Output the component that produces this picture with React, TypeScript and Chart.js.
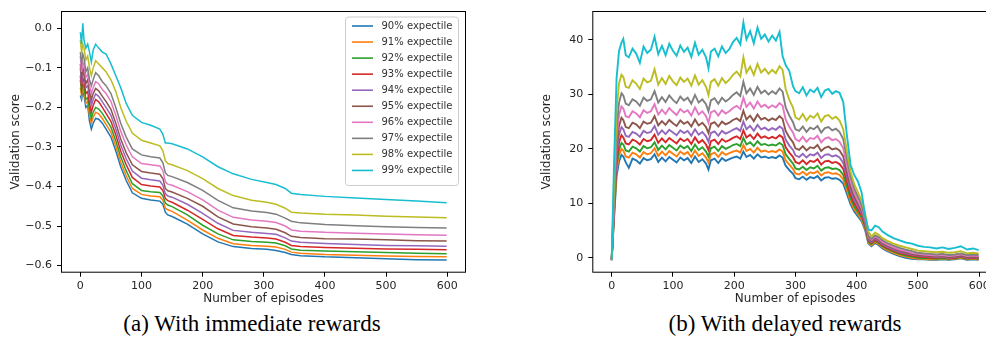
import React, { useEffect, useRef } from 'react';
import { Chart, registerables } from 'chart.js';

Chart.register(...registerables);

// ---- series metadata ----
const SERIES_LABELS = [
  '90% expectile', '91% expectile', '92% expectile', '93% expectile', '94% expectile',
  '95% expectile', '96% expectile', '97% expectile', '98% expectile', '99% expectile',
];
const SERIES_COLORS = [
  '#1f77b4', '#ff7f0e', '#2ca02c', '#d62728', '#9467bd',
  '#8c564b', '#e377c2', '#7f7f7f', '#bcbd22', '#17becf',
];

const X_TICKS = [0, 100, 200, 300, 400, 500, 600];
const Y_TICKS_IMMEDIATE = [-0.6, -0.5, -0.4, -0.3, -0.2, -0.1, 0.0];
const Y_TICKS_DELAYED = [0, 10, 20, 30, 40];

// ---- (a) immediate rewards ----
const EPISODES_IMMEDIATE = [
  0, 2, 4, 6, 9, 12, 15, 18, 21, 25,
  30, 36, 42, 50, 58, 66, 75, 85, 100, 115,
  130, 135, 139, 143, 150, 175, 200, 225, 250, 280,
  305, 320, 335, 345, 360, 400, 450, 500, 550, 599,
];
const IMMEDIATE_90 = [
  -0.17, -0.18, -0.16, -0.17, -0.2, -0.195, -0.235, -0.255, -0.24, -0.228,
  -0.23, -0.24, -0.255, -0.275, -0.31, -0.35, -0.385, -0.416, -0.43, -0.434,
  -0.437, -0.445, -0.465, -0.472, -0.476, -0.495, -0.52, -0.54, -0.552, -0.557,
  -0.559, -0.562, -0.567, -0.572, -0.575, -0.578, -0.58, -0.583, -0.585, -0.586,
];
const IMMEDIATE_91 = [
  -0.15, -0.17, -0.15, -0.16, -0.19, -0.185, -0.22, -0.24, -0.225, -0.212,
  -0.216, -0.228, -0.243, -0.263, -0.298, -0.338, -0.373, -0.405, -0.42, -0.424,
  -0.426, -0.435, -0.455, -0.459, -0.463, -0.485, -0.51, -0.531, -0.545, -0.549,
  -0.551, -0.553, -0.559, -0.566, -0.569, -0.572, -0.574, -0.576, -0.577, -0.578,
];
const IMMEDIATE_92 = [
  -0.13, -0.16, -0.14, -0.15, -0.18, -0.175, -0.205, -0.228, -0.212, -0.2,
  -0.204, -0.215, -0.23, -0.25, -0.285, -0.325, -0.36, -0.393, -0.41, -0.413,
  -0.415, -0.424, -0.442, -0.447, -0.451, -0.472, -0.498, -0.52, -0.535, -0.539,
  -0.541, -0.543, -0.55, -0.558, -0.561, -0.563, -0.565, -0.567, -0.569, -0.57,
];
const IMMEDIATE_93 = [
  -0.12, -0.15, -0.125, -0.135, -0.165, -0.16, -0.19, -0.212, -0.195, -0.18,
  -0.186, -0.2, -0.215, -0.235, -0.27, -0.31, -0.345, -0.377, -0.395, -0.399,
  -0.401, -0.41, -0.43, -0.436, -0.44, -0.46, -0.483, -0.507, -0.524, -0.528,
  -0.53, -0.533, -0.541, -0.549, -0.552, -0.554, -0.556, -0.558, -0.559, -0.56,
];
const IMMEDIATE_94 = [
  -0.1, -0.14, -0.11, -0.12, -0.15, -0.145, -0.17, -0.195, -0.18, -0.166,
  -0.172, -0.186, -0.2, -0.22, -0.255, -0.295, -0.33, -0.361, -0.379, -0.383,
  -0.386, -0.397, -0.418, -0.424, -0.427, -0.445, -0.468, -0.493, -0.511, -0.516,
  -0.519, -0.521, -0.53, -0.538, -0.541, -0.544, -0.547, -0.549, -0.55, -0.551,
];
const IMMEDIATE_95 = [
  -0.09, -0.125, -0.1, -0.11, -0.14, -0.13, -0.16, -0.18, -0.165, -0.152,
  -0.158, -0.172, -0.185, -0.205, -0.24, -0.28, -0.315, -0.345, -0.362, -0.366,
  -0.369, -0.38, -0.405, -0.411, -0.414, -0.43, -0.45, -0.477, -0.495, -0.502,
  -0.505, -0.508, -0.517, -0.526, -0.529, -0.532, -0.533, -0.535, -0.537, -0.538,
];
const IMMEDIATE_96 = [
  -0.07, -0.11, -0.085, -0.095, -0.125, -0.115, -0.145, -0.165, -0.15, -0.135,
  -0.14, -0.155, -0.165, -0.185, -0.22, -0.26, -0.295, -0.325, -0.342, -0.345,
  -0.348, -0.36, -0.388, -0.394, -0.397, -0.413, -0.434, -0.46, -0.478, -0.485,
  -0.488, -0.491, -0.5, -0.51, -0.513, -0.516, -0.518, -0.52, -0.522, -0.523,
];
const IMMEDIATE_97 = [
  -0.06, -0.09, -0.065, -0.075, -0.11, -0.1, -0.13, -0.145, -0.13, -0.112,
  -0.12, -0.135, -0.145, -0.165, -0.2, -0.24, -0.275, -0.305, -0.32, -0.325,
  -0.328, -0.34, -0.365, -0.372, -0.375, -0.39, -0.41, -0.435, -0.454, -0.462,
  -0.466, -0.47, -0.48, -0.488, -0.492, -0.496, -0.499, -0.502, -0.504, -0.505,
];
const IMMEDIATE_98 = [
  -0.03, -0.06, -0.04, -0.05, -0.08, -0.07, -0.1, -0.12, -0.1, -0.082,
  -0.09, -0.1, -0.11, -0.13, -0.16, -0.2, -0.235, -0.265, -0.283, -0.29,
  -0.297, -0.31, -0.335, -0.342, -0.345, -0.36, -0.38, -0.405, -0.423, -0.435,
  -0.44, -0.445, -0.455, -0.465, -0.467, -0.47, -0.472, -0.475, -0.477, -0.479,
];
const IMMEDIATE_99 = [
  -0.01, -0.04, 0.013, -0.03, -0.05, -0.04, -0.06, -0.085, -0.055, -0.04,
  -0.05, -0.06, -0.065, -0.09, -0.12, -0.15, -0.19, -0.22, -0.238, -0.245,
  -0.255, -0.268, -0.29, -0.29, -0.292, -0.305, -0.325, -0.35, -0.368, -0.382,
  -0.39, -0.395, -0.405, -0.417, -0.42, -0.425, -0.429, -0.433, -0.437, -0.441,
];

// ---- (b) delayed rewards ----
const EPISODES_DELAYED = [
  0, 4, 8, 12, 16, 19, 23, 28, 34, 40,
  46, 52, 58, 64, 70, 76, 82, 88, 94, 100,
  106, 112, 118, 124, 130, 136, 142, 148, 154, 158,
  162, 168, 174, 180, 186, 192, 198, 204, 210, 215,
  220, 226, 232, 238, 244, 250, 256, 262, 268, 274,
  279, 284, 290, 296, 300, 306, 312, 318, 324, 330,
  336, 342, 348, 354, 360, 366, 372, 378, 384, 390,
  396, 402, 408, 414, 419, 424, 430, 436, 442, 450,
  460, 470, 480, 490, 500, 510, 520, 530, 540, 550,
  560, 570, 580, 590, 599,
];
const DELAYED_90 = [
  -0.5, 7.5, 15, 17.7, 18.9, 18.6, 17.5, 16.5, 18.2, 17.9,
  17.3, 18.3, 17.9, 18.1, 19.0, 17.6, 18.4, 17.7, 18.5, 18.0,
  17.5, 18.4, 17.9, 18.3, 17.4, 18.6, 17.6, 18.1, 17.3, 16.2,
  17.9, 18.2, 17.4, 18.3, 17.8, 18.1, 18.4, 18.6, 18.2, 19.5,
  18.5, 18.9, 18.2, 19.0, 18.4, 18.6, 18.3, 18.5, 18.3, 18.8,
  18.4, 16.9, 16.1, 15.4, 14.6, 14.4, 14.9, 14.3, 14.8, 14.6,
  15.0, 14.2, 14.7, 14.8, 14.5, 14.6, 14.3, 13.6, 11.7, 9.8,
  8.5, 7.6, 6.7, 5.0, 2.6, 2.1, 2.7, 2.3, 1.7, 1.2,
  0.7, 0.3, 0.0, -0.2, -0.3, -0.3, -0.4, -0.4, -0.3, -0.4,
  -0.3, -0.1, -0.4, -0.3, -0.4,
];
const DELAYED_91 = [
  -0.4, 8, 16, 18.8, 20.0, 19.7, 18.6, 18.4, 19.3, 19.0,
  18.4, 19.4, 19.0, 19.2, 20.1, 18.7, 19.5, 18.8, 19.6, 19.1,
  18.6, 19.5, 19.0, 19.4, 18.5, 19.7, 18.7, 19.2, 18.4, 17.5,
  19.0, 19.3, 18.5, 19.4, 18.9, 19.2, 19.5, 19.7, 19.3, 20.7,
  19.6, 20.0, 19.3, 20.2, 19.5, 19.7, 19.4, 19.6, 19.4, 19.9,
  19.5, 17.9, 17.1, 16.3, 15.5, 15.3, 15.8, 15.2, 15.7, 15.5,
  15.9, 15.1, 15.6, 15.7, 15.4, 15.5, 15.2, 14.4, 12.4, 10.3,
  8.9, 8.0, 7.0, 5.3, 2.8, 2.3, 2.9, 2.5, 1.9, 1.4,
  0.9, 0.5, 0.2, 0.0, -0.2, -0.2, -0.3, -0.3, -0.2, -0.3,
  -0.2, 0.0, -0.3, -0.2, -0.3,
];
const DELAYED_92 = [
  -0.4, 8.5, 17, 19.9, 21.1, 20.8, 19.7, 19.5, 20.4, 20.1,
  19.5, 20.5, 20.1, 20.3, 21.2, 19.8, 20.6, 19.9, 20.7, 20.2,
  19.7, 20.6, 20.1, 20.5, 19.6, 20.8, 19.8, 20.3, 19.5, 18.6,
  20.1, 20.4, 19.6, 20.5, 20.0, 20.3, 20.7, 20.9, 20.5, 22.0,
  20.8, 21.2, 20.5, 21.4, 20.7, 20.9, 20.6, 20.8, 20.6, 21.1,
  20.7, 19.0, 18.1, 17.3, 16.4, 16.2, 16.7, 16.1, 16.6, 16.4,
  16.9, 16.0, 16.5, 16.6, 16.3, 16.4, 16.1, 15.2, 13.1, 10.9,
  9.4, 8.4, 7.4, 5.6, 3.0, 2.5, 3.1, 2.7, 2.1, 1.6,
  1.1, 0.7, 0.4, 0.2, 0.0, -0.1, -0.1, -0.2, -0.1, -0.2,
  -0.1, 0.1, -0.2, -0.1, -0.2,
];
const DELAYED_93 = [
  -0.4, 9, 18, 21.2, 22.5, 22.1, 21.0, 20.8, 21.7, 21.4,
  20.8, 21.8, 21.4, 21.6, 22.6, 21.1, 21.9, 21.2, 22.0, 21.5,
  21.0, 21.9, 21.4, 21.8, 20.9, 22.1, 21.1, 21.6, 20.8, 19.8,
  21.4, 21.7, 20.9, 21.8, 21.3, 21.6, 22.0, 22.3, 21.8, 23.4,
  22.1, 22.6, 21.8, 22.8, 22.0, 22.3, 21.9, 22.2, 21.9, 22.5,
  22.1, 20.3, 19.3, 18.5, 17.6, 17.3, 17.9, 17.2, 17.8, 17.6,
  18.1, 17.1, 17.7, 17.8, 17.4, 17.6, 17.2, 16.3, 14.0, 11.6,
  10.0, 8.9, 7.8, 5.9, 3.2, 2.7, 3.3, 2.9, 2.3, 1.8,
  1.3, 0.9, 0.6, 0.4, 0.2, 0.1, 0.0, 0.0, 0.1, -0.1,
  0.0, 0.2, -0.1, 0.0, -0.1,
];
const DELAYED_94 = [
  -0.4, 9.5, 19, 22.6, 24.0, 23.6, 22.4, 22.2, 23.1, 22.8,
  22.2, 23.3, 22.9, 23.1, 24.2, 22.6, 23.4, 22.7, 23.5, 23.0,
  22.5, 23.4, 22.9, 23.3, 22.4, 23.6, 22.6, 23.1, 22.3, 21.3,
  22.9, 23.2, 22.4, 23.3, 22.8, 23.1, 23.5, 23.8, 23.3, 25.0,
  23.6, 24.2, 23.3, 24.4, 23.6, 23.9, 23.4, 23.8, 23.5, 24.1,
  23.7, 21.7, 20.6, 19.8, 18.8, 18.5, 19.1, 18.4, 19.0, 18.8,
  19.3, 18.3, 18.9, 19.0, 18.6, 18.8, 18.4, 17.4, 14.9, 12.3,
  10.6, 9.4, 8.2, 6.2, 3.4, 2.9, 3.5, 3.1, 2.5, 2.0,
  1.5, 1.1, 0.8, 0.6, 0.4, 0.3, 0.2, 0.1, 0.2, 0.0,
  0.1, 0.3, 0.0, 0.1, 0.0,
];
const DELAYED_95 = [
  -0.4, 10, 20.5, 24.2, 25.7, 25.3, 24.0, 23.8, 24.8, 24.5,
  23.8, 25.0, 24.6, 24.8, 26.0, 24.3, 25.1, 24.4, 25.3, 24.7,
  24.2, 25.2, 24.6, 25.0, 24.1, 25.4, 24.3, 24.8, 24.0, 22.9,
  24.6, 24.9, 24.1, 25.0, 24.5, 24.8, 25.3, 25.6, 25.1, 27.0,
  25.4, 26.1, 25.1, 26.3, 25.4, 25.7, 25.2, 25.6, 25.3, 26.0,
  25.5, 23.3, 22.1, 21.2, 20.1, 19.8, 20.5, 19.7, 20.3, 20.1,
  20.7, 19.6, 20.2, 20.4, 19.9, 20.1, 19.7, 18.6, 15.8, 13.0,
  11.2, 9.9, 8.6, 6.5, 3.6, 3.1, 3.7, 3.3, 2.7, 2.2,
  1.7, 1.3, 1.0, 0.7, 0.5, 0.4, 0.3, 0.2, 0.3, 0.1,
  0.2, 0.4, 0.1, 0.2, 0.1,
];
const DELAYED_96 = [
  -0.4, 11, 22, 26.2, 27.8, 27.4, 26.0, 25.8, 26.9, 26.5,
  25.8, 27.1, 26.6, 26.9, 28.2, 26.3, 27.2, 26.4, 27.5, 26.8,
  26.2, 27.3, 26.7, 27.1, 26.1, 27.6, 26.3, 26.9, 26.0, 24.8,
  26.7, 27.0, 26.1, 27.1, 26.5, 26.9, 27.5, 27.9, 27.3, 29.4,
  27.7, 28.5, 27.4, 28.7, 27.7, 28.1, 27.5, 28.0, 27.6, 28.4,
  27.9, 25.4, 24.0, 23.0, 21.8, 21.4, 22.2, 21.3, 22.0, 21.8,
  22.4, 21.2, 21.9, 22.1, 21.6, 21.8, 21.3, 20.1, 16.9, 13.9,
  11.9, 10.5, 9.1, 6.9, 3.8, 3.3, 3.9, 3.5, 2.9, 2.4,
  1.9, 1.5, 1.2, 0.9, 0.7, 0.6, 0.5, 0.4, 0.5, 0.3,
  0.4, 0.6, 0.3, 0.4, 0.3,
];
const DELAYED_97 = [
  -0.4, 12, 24, 28.5, 30.2, 29.8, 28.3, 28.0, 29.1, 28.7,
  27.9, 29.4, 28.8, 29.1, 30.6, 28.5, 29.5, 28.6, 29.8, 29.0,
  28.4, 29.6, 28.9, 29.4, 28.3, 29.9, 28.5, 29.1, 28.2, 26.9,
  28.9, 29.3, 28.3, 29.4, 28.7, 29.2, 29.9, 30.4, 29.7, 32.3,
  30.2, 31.1, 29.9, 31.4, 30.2, 30.7, 30.0, 30.6, 30.1, 31.1,
  30.5, 27.6, 26.1, 24.9, 23.6, 23.3, 24.1, 23.1, 23.9, 23.6,
  24.2, 23.0, 23.8, 24.0, 23.4, 23.7, 23.1, 21.8, 18.2, 14.9,
  12.7, 11.2, 9.7, 7.3, 4.0, 3.5, 4.1, 3.8, 3.2, 2.7,
  2.2, 1.8, 1.5, 1.2, 0.9, 0.8, 0.7, 0.6, 0.7, 0.5,
  0.6, 0.8, 0.5, 0.6, 0.5,
];
const DELAYED_98 = [
  -0.4, 14, 27, 32, 33.6, 33.2, 31.4, 31.2, 32.6, 32.0,
  31.0, 32.9, 32.2, 32.5, 34.6, 31.8, 33.0, 31.9, 33.4, 32.4,
  31.7, 33.1, 32.3, 32.9, 31.6, 33.5, 31.8, 32.6, 31.4, 29.9,
  32.3, 32.8, 31.6, 33.0, 32.1, 32.7, 33.6, 34.2, 33.3, 36.8,
  34.0, 35.1, 33.6, 35.6, 34.0, 34.7, 33.8, 34.5, 33.9, 35.2,
  34.5, 31.0, 29.0, 27.6, 25.8, 25.4, 26.4, 25.2, 26.1, 25.7,
  26.5, 25.0, 26.0, 26.2, 25.5, 25.9, 25.2, 23.6, 19.5, 15.8,
  13.5, 12.0, 10.5, 8.0, 4.8, 3.9, 4.6, 4.2, 3.6, 3.1,
  2.6, 2.2, 1.9, 1.6, 1.3, 1.2, 1.1, 1.0, 1.1, 0.9,
  1.0, 1.2, 0.8, 0.9, 0.8,
];
const DELAYED_99 = [
  -0.3, 18, 33, 38, 39.5, 40.2, 37.2, 36.8, 38.4, 37.5,
  35.8, 38.8, 37.6, 38.2, 40.6, 37.4, 38.9, 37.2, 39.3, 38.0,
  37.1, 39.0, 37.8, 38.6, 36.9, 39.5, 37.3, 38.2, 36.8, 34.8,
  37.9, 38.4, 37.0, 38.8, 37.6, 38.3, 39.6, 40.4, 39.2, 43.2,
  40.1, 41.6, 39.4, 42.3, 40.2, 41.0, 39.7, 40.8, 39.9, 41.5,
  37.0, 35.4, 34.3, 31.5, 30.6, 30.2, 31.3, 29.8, 30.9, 30.4,
  31.2, 29.5, 30.7, 31.0, 30.1, 30.6, 30.3, 28.6, 22.5, 17.0,
  15.2, 14.0, 12.0, 7.5, 5.2, 5.0, 5.9, 5.6, 4.8, 4.2,
  3.6, 3.2, 2.8, 2.6, 2.2, 2.0, 1.9, 1.7, 1.9, 1.6,
  1.8, 2.1, 1.5, 1.7, 1.4,
];

const IMMEDIATE_SERIES = [
  IMMEDIATE_90, IMMEDIATE_91, IMMEDIATE_92, IMMEDIATE_93, IMMEDIATE_94,
  IMMEDIATE_95, IMMEDIATE_96, IMMEDIATE_97, IMMEDIATE_98, IMMEDIATE_99,
];
const DELAYED_SERIES = [
  DELAYED_90, DELAYED_91, DELAYED_92, DELAYED_93, DELAYED_94,
  DELAYED_95, DELAYED_96, DELAYED_97, DELAYED_98, DELAYED_99,
];

const TEXT_COLOR = '#262626';
const SANS = "'DejaVu Sans', sans-serif";

// Black box around the axes area (all four spines).
const framePlugin = {
  id: 'axesFrame',
  afterDatasetsDraw(chart: any) {
    const { ctx, chartArea: a } = chart;
    ctx.save();
    ctx.strokeStyle = '#000';
    ctx.lineWidth = 1;
    ctx.strokeRect(a.left - 0.5, a.top - 0.5, a.right - a.left + 1, a.bottom - a.top + 1);
    ctx.restore();
  },
};

// Legend box in the upper-right corner of the axes.
const expectileLegend = {
  id: 'expectileLegend',
  afterDraw(chart: any) {
    const { ctx, chartArea: a } = chart;
    const sets = chart.data.datasets;
    const boxW = 113;
    const rowH = 16.05;
    const boxH = 11 + rowH * sets.length - 3;
    const bx = a.right - 7 - boxW;
    const by = a.top + 4.5;
    ctx.save();
    ctx.beginPath();
    ctx.roundRect(bx + 0.5, by + 0.5, boxW, boxH, 3);
    ctx.fillStyle = 'rgba(255,255,255,0.85)';
    ctx.fill();
    ctx.strokeStyle = '#cccccc';
    ctx.lineWidth = 1;
    ctx.stroke();
    ctx.font = `10px ${SANS}`;
    ctx.textBaseline = 'middle';
    ctx.textAlign = 'left';
    sets.forEach((ds: any, i: number) => {
      const cy = by + 9.5 + i * rowH;
      ctx.strokeStyle = ds.borderColor;
      ctx.lineWidth = 1.6;
      ctx.beginPath();
      ctx.moveTo(bx + 7, cy);
      ctx.lineTo(bx + 28, cy);
      ctx.stroke();
      ctx.fillStyle = '#333333';
      ctx.fillText(ds.label, bx + 36.5, cy);
    });
    ctx.restore();
  },
};

type PanelProps = {
  episodes: number[];
  series: number[][];
  yMin: number;
  yMax: number;
  yTicks: number[];
  yFormat: (v: number) => string;
  left: number;
  width: number;
  yAxisWidth: number;
  padRight: number;
  yTitleOffset: number;
  lineWidth: number;
  legend: boolean;
};

const CANVAS_H = 310;

function Panel(p: PanelProps) {
  const ref = useRef<HTMLCanvasElement | null>(null);

  useEffect(() => {
    if (!ref.current) return;
    const datasets = p.series.map((vals, i) => ({
      label: SERIES_LABELS[i],
      data: p.episodes.map((x, j) => ({ x, y: vals[j] })),
      borderColor: SERIES_COLORS[i],
      backgroundColor: SERIES_COLORS[i],
      borderWidth: p.lineWidth,
      pointRadius: 0,
      tension: 0,
      fill: false,
      order: p.series.length - 1 - i,
    }));

    const tickFont = { family: SANS, size: 11 };
    const titleFont = { family: SANS, size: 12 };

    const chart = new Chart(ref.current, {
      type: 'line',
      data: { datasets },
      options: {
        responsive: false,
        animation: false,
        devicePixelRatio: 1,
        events: [],
        layout: { padding: { top: 12, right: p.padRight, left: 0, bottom: 0 } },
        plugins: {
          legend: { display: false },
          tooltip: { enabled: false },
        },
        scales: {
          x: {
            type: 'linear',
            min: -30,
            max: 629,
            afterBuildTicks: (s: any) => {
              s.ticks = X_TICKS.map((v) => ({ value: v }));
            },
            afterFit: (s: any) => {
              s.height = CANVAS_H - 271.7;
            },
            ticks: {
              autoSkip: false,
              maxRotation: 0,
              padding: 2.5,
              color: TEXT_COLOR,
              font: tickFont,
              callback: (v: any) => String(v),
            },
            grid: { drawOnChartArea: false, drawTicks: true, tickLength: 5, color: '#000', lineWidth: 1 },
            border: { display: false },
            title: {
              display: true,
              text: 'Number of episodes',
              color: TEXT_COLOR,
              font: titleFont,
              padding: { top: 0, bottom: 3.5 },
            },
          },
          y: {
            type: 'linear',
            min: p.yMin,
            max: p.yMax,
            afterBuildTicks: (s: any) => {
              s.ticks = p.yTicks.map((v) => ({ value: v }));
            },
            afterFit: (s: any) => {
              s.width = p.yAxisWidth;
            },
            ticks: {
              autoSkip: false,
              padding: 5,
              color: TEXT_COLOR,
              font: tickFont,
              callback: (v: any) => p.yFormat(Number(v)),
            },
            grid: { drawOnChartArea: false, drawTicks: true, tickLength: 5, color: '#000', lineWidth: 1 },
            border: { display: false },
            title: {
              display: true,
              text: 'Validation score',
              color: TEXT_COLOR,
              font: titleFont,
              padding: { top: p.yTitleOffset, bottom: 0 },
            },
          },
        },
      } as any,
      plugins: p.legend ? [framePlugin, expectileLegend] : [framePlugin],
    });
    return () => chart.destroy();
  }, []);

  return (
    <canvas
      ref={ref}
      width={p.width}
      height={CANVAS_H}
      style={{ position: 'absolute', left: p.left, top: 0, width: p.width, height: CANVAS_H, display: 'block' }}
    />
  );
}

const fmtImmediate = (v: number) => {
  const r = Math.round(v * 10) / 10;
  if (r === 0) return '0.0';
  return (r < 0 ? '\u2212' : '') + Math.abs(r).toFixed(1);
};
const fmtDelayed = (v: number) => String(Math.round(v));

const captionStyle: React.CSSProperties = {
  position: 'absolute',
  top: 311,
  transform: 'translateX(-50%)',
  whiteSpace: 'nowrap',
  fontFamily: "'Liberation Serif', 'Times New Roman', serif",
  fontSize: 23,
  lineHeight: '26px',
  color: '#000',
};

export default function App() {
  return (
    <div
      style={{
        position: 'fixed',
        left: 0,
        top: 0,
        width: 986,
        height: 347,
        overflow: 'hidden',
        background: '#fff',
      }}
    >
      <Panel
        episodes={EPISODES_IMMEDIATE}
        series={IMMEDIATE_SERIES}
        yMin={-0.6155}
        yMax={0.0413}
        yTicks={Y_TICKS_IMMEDIATE}
        yFormat={fmtImmediate}
        left={0}
        width={480}
        yAxisWidth={62}
        padRight={15}
        yTitleOffset={8.6}
        lineWidth={1.5}
        legend={true}
      />
      <Panel
        episodes={EPISODES_DELAYED}
        series={DELAYED_SERIES}
        yMin={-2.57}
        yMax={45.14}
        yTicks={Y_TICKS_DELAYED}
        yFormat={fmtDelayed}
        left={500}
        width={510}
        yAxisWidth={93.3}
        padRight={13}
        yTitleOffset={39.5}
        lineWidth={1.9}
        legend={false}
      />
      <div style={{ ...captionStyle, left: 252 }}>(a) With immediate rewards</div>
      <div style={{ ...captionStyle, left: 785 }}>(b) With delayed rewards</div>
    </div>
  );
}
